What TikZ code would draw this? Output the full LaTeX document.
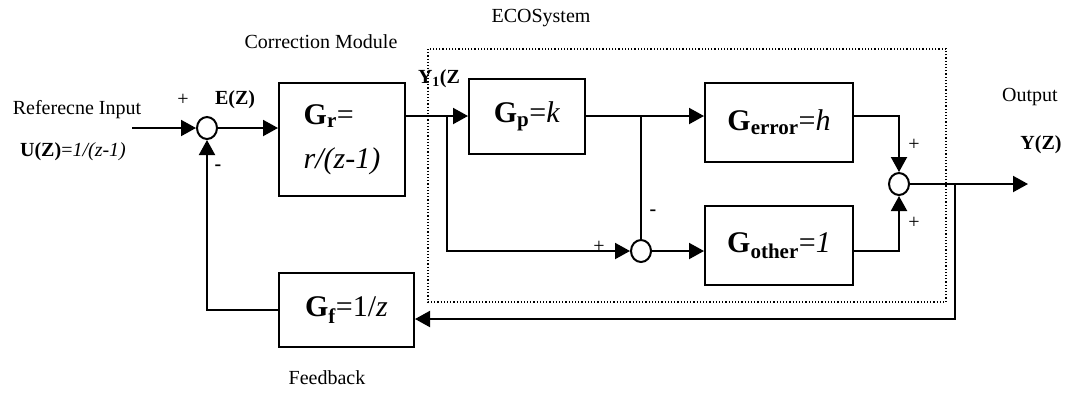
\documentclass[tikz,border=0pt]{standalone}
\usepackage{fontspec}
\setmainfont{Liberation Serif}
\usetikzlibrary{arrows.meta,shapes.geometric}
\begin{document}
\begin{tikzpicture}[x=1pt,y=-1pt,line width=2pt,
  arr/.style={-{Triangle[length=15pt,width=16pt]}},
  blockbox/.style={draw,inner sep=0pt,align=left,font=\fontsize{30}{44}\selectfont},
  sumnode/.style={draw,ellipse,minimum width=20pt,minimum height=22pt,inner sep=0pt},
  lbl/.style={font=\fontsize{20}{24}\selectfont,inner sep=0pt},
  sgn/.style={font=\fontsize{20}{22}\selectfont,inner sep=0pt}]
  \useasboundingbox (0,0) rectangle (1067,392);
  % blocks
  \node[blockbox,minimum width=126pt,minimum height=113pt] (gr) at (342,139.5)
    {\textbf{G\textsubscript{r}}=\\\textit{r/(z-1)}};
  \node[blockbox,minimum width=116pt,minimum height=75pt] (gp) at (527,116)
    {\textbf{G\textsubscript{p}}=\textit{k}};
  \node[blockbox,minimum width=148pt,minimum height=79pt] (gerror) at (779,122.5)
    {\textbf{G\textsubscript{error}}=\textit{h}};
  \node[blockbox,minimum width=148pt,minimum height=79pt] (gother) at (779,245.5)
    {\textbf{G\textsubscript{other}}=\textit{1}};
  \node[blockbox,minimum width=135pt,minimum height=74pt] (gf) at (346.5,310)
    {\textbf{G\textsubscript{f}}=1/\textit{z}};
  % summing points
  \node[sumnode] (s1) at (207,128) {};
  \node[sumnode] (s2) at (641,251) {};
  \node[sumnode] (s3) at (899,184) {};
  \coordinate (in) at (132,128);
  \coordinate (out) at (1028,184);
  \coordinate (b1) at (447,116);
  \coordinate (b2) at (s2 |- gp.east);
  \coordinate (b3) at (955,184);
  \coordinate (fb) at (955,319);
  % ECOSystem frame
  \draw[dotted,line width=1.2pt] (428,49) rectangle (946,302);
  % connectors
  \draw[arr] (in) -- (s1.west);
  \draw[arr] (s1.east) -- (gr.west |- s1);
  \draw[arr] (gr.east |- b1) -- (gp.west |- b1);
  \draw[arr] (b1) |- (s2.west);
  \draw[arr] (gp.east) -- (gerror.west |- gp.east);
  \draw (b2) -- (s2.north);
  \draw[arr] (s2.east) -- (gother.west |- s2);
  \draw[arr] (gerror.east |- gp.east) -| (s3.north);
  \draw[arr] (gother.east |- s2) -| (s3.south);
  \draw[arr] (s3.east) -- (out);
  \draw[arr] (b3) -- (fb) -- (fb -| gf.east);
  \draw[arr] (gf.west) -| (s1.south);
  % labels
  \node[lbl] at (77,110) {Referecne Input};
  \node[lbl] at (73,152) {\textbf{U(Z)}=\textit{1/(z-1)}};
  \node[sgn] at (183,100) {+};
  \node[lbl] at (235,100) {\textbf{E(Z)}};
  \node[lbl] at (218,168) {\textbf{-}};
  \node[lbl] at (321,42) {Correction Module};
  \node[lbl] at (541,18) {ECOSystem};
  \node[lbl] at (439,79) {\textbf{Y\textsubscript{1}(Z}};
  \node[sgn] at (599,247) {+};
  \node[lbl] at (653,213) {\textbf{-}};
  \node[sgn] at (914,145) {+};
  \node[sgn] at (914,223) {+};
  \node[lbl] at (1030,97) {Output};
  \node[lbl] at (1041,145) {\textbf{Y(Z)}};
  \node[lbl] at (327,378) {Feedback};
\end{tikzpicture}
\end{document}
